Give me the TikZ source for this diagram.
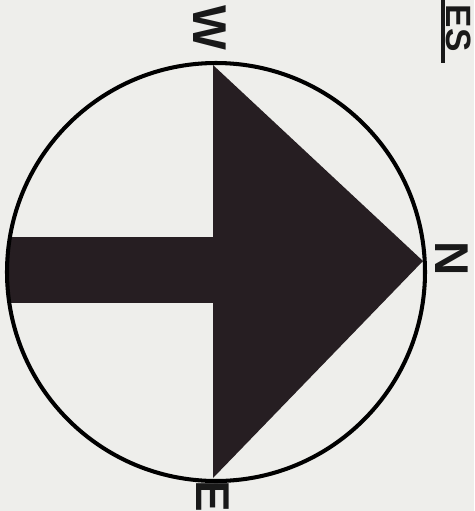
\documentclass[tikz,border=0pt]{standalone}
\usepackage{fontspec}
\setmainfont{Liberation Sans}
\definecolor{paper}{RGB}{238,238,235}
\definecolor{ink}{RGB}{38,30,34}

\begin{document}
\begin{tikzpicture}[
  x=0.02cm, y=-0.02cm,
  ring/.style={draw=black, line width=2.3pt},
  solid/.style={fill=ink, draw=none},
  letter/.style={font=\fontsize{27}{27}\selectfont\bfseries, rotate=-90,
    inner sep=0pt, text=black!90},
  rule/.style={draw=black!90, line width=2.2pt}
]

  %% ============================================ sheet and its margins
  \clip (0,0) rectangle (474,511);
  \fill[paper] (0,0) rectangle (474,511);

  %% ------------------------------------------------------------ the dial
  \coordinate (c) at (216,272);
  \coordinate (tipW) at (213,65);
  \coordinate (tipE) at (213,478);
  \coordinate (tipN) at (423,261);

  % head of the arrow, one triangle from W to E with its point on N
  \fill[solid] (tipW) -- (tipN) -- (tipE) -- cycle;

  % the shaft runs back to the rim, so it is cut by the circle
  \begin{scope}
    \clip (c) circle [radius=209];
    \fill[solid] (0,237) rectangle (214,303);
  \end{scope}

  \draw[ring] (c) circle [radius=209];

  %% ---------------------------------------------------- the three points
  \node[letter] (lw) at (210,28) {W};
  \node[letter] (ln) at (452,259) {N};
  \node[letter] (le) at (213,496) {E};

  %% ========================================= heading by the top edge
  \node[letter, font=\fontsize{20}{20}\selectfont\bfseries] (head)
    at (459,28) {ES};
  \draw[rule] (443,-5) -- (443,63);

\end{tikzpicture}
\end{document}
